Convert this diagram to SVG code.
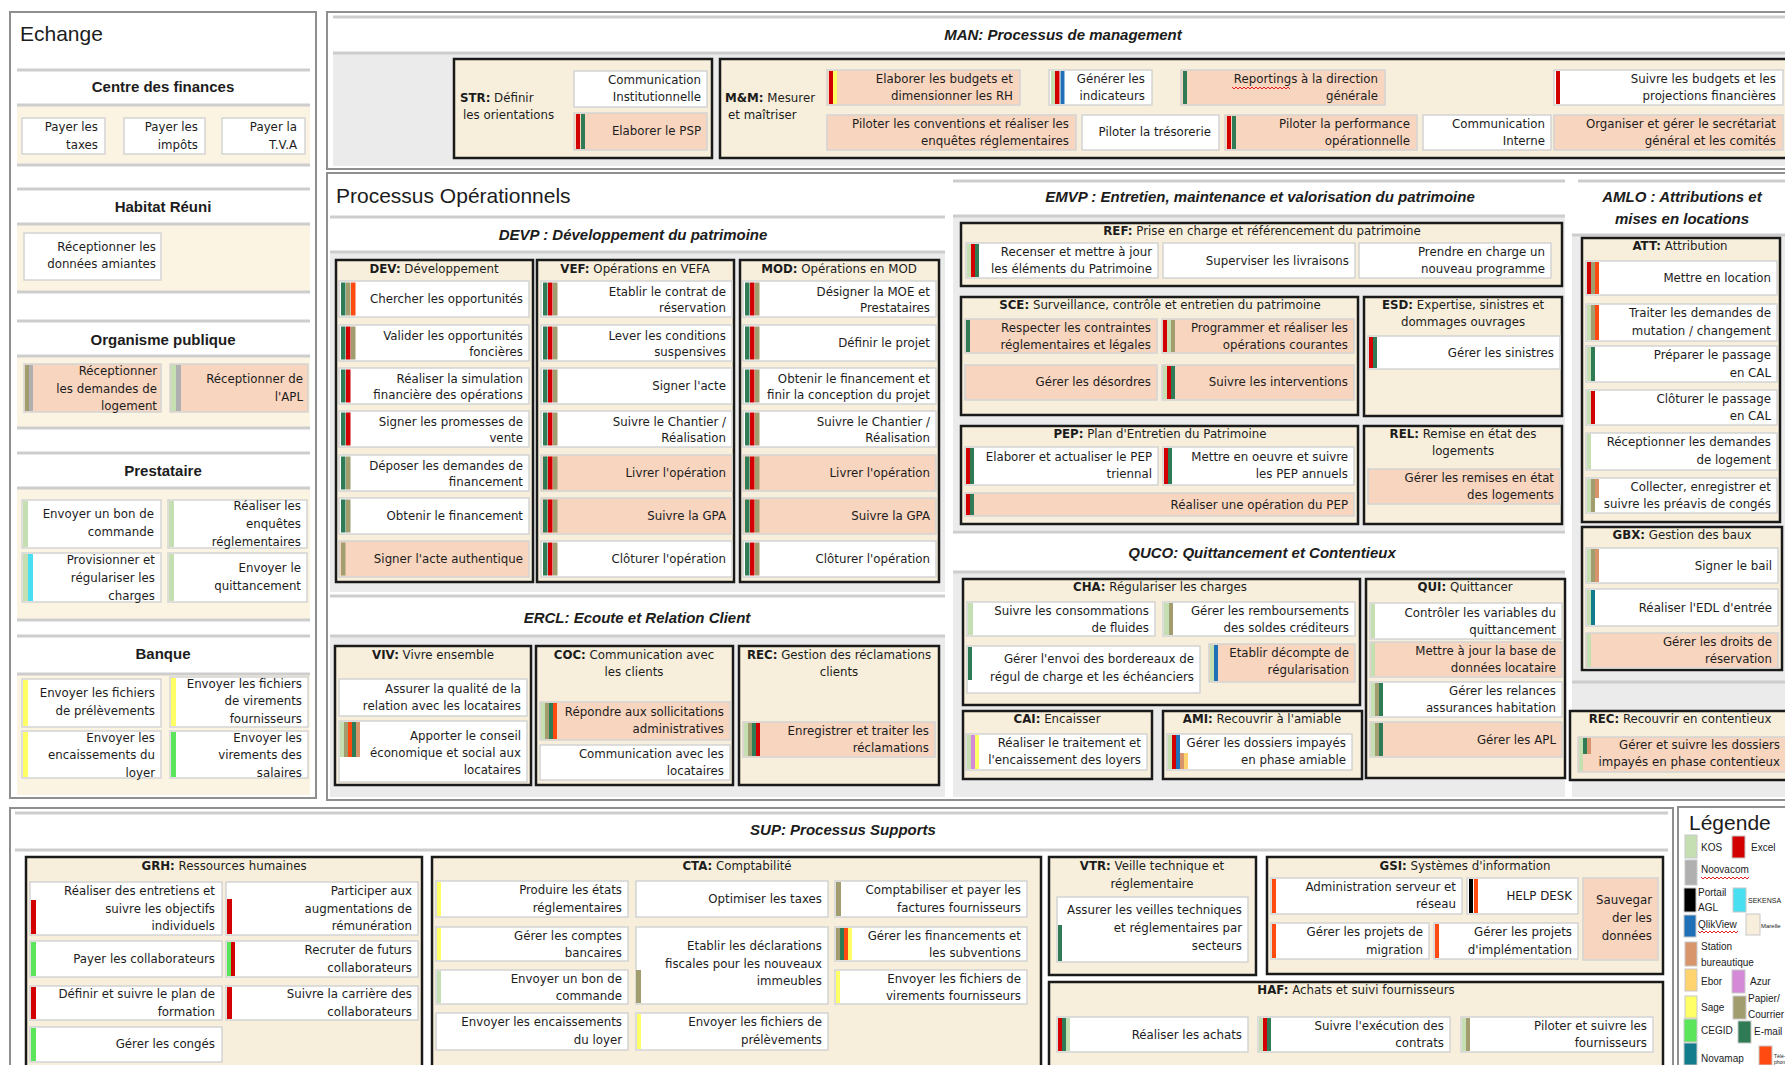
<svg xmlns="http://www.w3.org/2000/svg" width="1785" height="1065" viewBox="0 0 1785 1065">
<style>
text{font-family:"Liberation Sans",Arial,sans-serif;fill:#1c1c1c}
.t,.h,.hl{font-family:"DejaVu Sans","Liberation Sans",sans-serif;font-size:11.8px}
.t{text-anchor:end}
.h{text-anchor:middle}
.bd{font-weight:bold}
.st{font-size:15px;font-weight:bold;text-anchor:middle}
.sec{font-size:15px;font-weight:bold;font-style:italic;text-anchor:middle}
.big{font-size:21px}
.lg{font-size:10px}
.panel{fill:#fff;stroke:#8f8f8f;stroke-width:2}
.sep{stroke:#cdcdcd;stroke-width:3}
.gbg{fill:#ebebeb}
.eb{fill:#fcf4e2}
.grp{fill:#f7efdb;stroke:#1a1a1a;stroke-width:2.5}
.w{fill:#fff;stroke:#d4d4d4;stroke-width:1.5}
.s{fill:#f8d5bf;stroke:#d4d4d4;stroke-width:1.5}
.kos{fill:#c5dfb3}.exc{fill:#d20000}.pap{fill:#a29d6e}.eml{fill:#2e7b55}.tel{fill:#ff4a12}.qlk{fill:#1f70b6}
.sag{fill:#ffff66}.ceg{fill:#5be55b}.sta{fill:#d8956c}.sek{fill:#48e0f0}.azu{fill:#d58ad8}.blk{fill:#000}
.nov{fill:#b0b0b0}.nmp{fill:#137c8c}.exr{fill:#ffd46e}.mar{fill:#f7efdb}
.sw{stroke:#c8c8c8;stroke-width:1}
.wave{fill:none;stroke:#e02020;stroke-width:1}
</style>

<!-- ================= ECHANGE ================= -->
<g id="echange">
<rect class="panel" x="10" y="12" width="306" height="786"/>
<text class="big" x="20" y="41">Echange</text>
<rect class="eb" x="17" y="106" width="293" height="58"/>
<rect class="eb" x="17" y="225" width="293" height="66"/>
<rect class="eb" x="17" y="357" width="293" height="70"/>
<rect class="eb" x="17" y="489" width="293" height="130"/>
<rect class="eb" x="17" y="675" width="293" height="120"/>
<line class="sep" x1="17" y1="70" x2="310" y2="70"/><line class="sep" x1="17" y1="105" x2="310" y2="105"/><line class="sep" x1="17" y1="165" x2="310" y2="165"/>
<line class="sep" x1="17" y1="189" x2="310" y2="189"/><line class="sep" x1="17" y1="224" x2="310" y2="224"/><line class="sep" x1="17" y1="292" x2="310" y2="292"/>
<line class="sep" x1="17" y1="321" x2="310" y2="321"/><line class="sep" x1="17" y1="356" x2="310" y2="356"/><line class="sep" x1="17" y1="428" x2="310" y2="428"/>
<line class="sep" x1="17" y1="453" x2="310" y2="453"/><line class="sep" x1="17" y1="488" x2="310" y2="488"/><line class="sep" x1="17" y1="620" x2="310" y2="620"/>
<line class="sep" x1="17" y1="636" x2="310" y2="636"/><line class="sep" x1="17" y1="674" x2="310" y2="674"/>
<text class="st" x="163" y="92">Centre des finances</text>
<text class="st" x="163" y="212">Habitat Réuni</text>
<text class="st" x="163" y="345">Organisme publique</text>
<text class="st" x="163" y="476">Prestataire</text>
<text class="st" x="163" y="659">Banque</text>
</g>
<g id="ech-taxes"><rect class="w" x="22" y="118" width="83" height="36"/><text class="t"><tspan x="98" y="131">Payer les</tspan><tspan x="98" y="149">taxes</tspan></text></g>
<g id="ech-impots"><rect class="w" x="124" y="118" width="81" height="36"/><text class="t"><tspan x="198" y="131">Payer les</tspan><tspan x="198" y="149">impôts</tspan></text></g>
<g id="ech-tva"><rect class="w" x="222" y="118" width="83" height="36"/><text class="t"><tspan x="297" y="131">Payer la</tspan><tspan x="297" y="149">T.V.A</tspan></text></g>
<g id="ech-amiante"><rect class="w" x="24" y="233" width="137" height="47"/><text class="t"><tspan x="156" y="251">Réceptionner les</tspan><tspan x="156" y="268">données amiantes</tspan></text></g>
<g id="ech-demlog"><rect class="s" x="24" y="364" width="137" height="48"/><rect class="pap" x="25" y="365" width="4" height="46"/><rect class="nov" x="29" y="365" width="4" height="46"/><text class="t"><tspan x="157" y="375">Réceptionner</tspan><tspan x="157" y="393">les demandes de</tspan><tspan x="157" y="410">logement</tspan></text></g>
<g id="ech-apl"><rect class="s" x="170" y="364" width="138" height="48"/><rect class="kos" x="171" y="365" width="5" height="46"/><rect class="nov" x="176" y="365" width="5" height="46"/><text class="t"><tspan x="303" y="383">Réceptionner de</tspan><tspan x="303" y="401">l'APL</tspan></text></g>
<g id="ech-bon"><rect class="w" x="22" y="500" width="139" height="48"/><rect class="kos" x="23" y="501" width="5" height="46"/><text class="t"><tspan x="154" y="518">Envoyer un bon de</tspan><tspan x="154" y="536">commande</tspan></text></g>
<g id="ech-enq"><rect class="w" x="168" y="500" width="139" height="48"/><rect class="kos" x="169" y="501" width="5" height="46"/><text class="t"><tspan x="301" y="510">Réaliser les</tspan><tspan x="301" y="528">enquêtes</tspan><tspan x="301" y="546">réglementaires</tspan></text></g>
<g id="ech-prov"><rect class="w" x="22" y="553" width="139" height="49"/><rect class="kos" x="23" y="554" width="5" height="47"/><rect class="sek" x="28" y="554" width="5" height="47"/><text class="t"><tspan x="155" y="564">Provisionner et</tspan><tspan x="155" y="582">régulariser les</tspan><tspan x="155" y="600">charges</tspan></text></g>
<g id="ech-quit"><rect class="w" x="168" y="553" width="139" height="49"/><rect class="kos" x="169" y="554" width="5" height="47"/><text class="t"><tspan x="301" y="572">Envoyer le</tspan><tspan x="301" y="590">quittancement</tspan></text></g>
<g id="ech-prel"><rect class="w" x="22" y="679" width="139" height="48"/><rect class="sag" x="23" y="680" width="5" height="46"/><text class="t"><tspan x="155" y="697">Envoyer les fichiers</tspan><tspan x="155" y="715">de prélèvements</tspan></text></g>
<g id="ech-vir"><rect class="w" x="170" y="677" width="138" height="50"/><rect class="sag" x="171" y="678" width="5" height="48"/><text class="t"><tspan x="302" y="688">Envoyer les fichiers</tspan><tspan x="302" y="705">de virements</tspan><tspan x="302" y="723">fournisseurs</tspan></text></g>
<g id="ech-enc"><rect class="w" x="22" y="731" width="139" height="47"/><rect class="sag" x="23" y="732" width="5" height="45"/><text class="t"><tspan x="155" y="742">Envoyer les</tspan><tspan x="155" y="759">encaissements du</tspan><tspan x="155" y="777">loyer</tspan></text></g>
<g id="ech-sal"><rect class="w" x="170" y="731" width="138" height="47"/><rect class="ceg" x="171" y="732" width="5" height="45"/><text class="t"><tspan x="302" y="742">Envoyer les</tspan><tspan x="302" y="759">virements des</tspan><tspan x="302" y="777">salaires</tspan></text></g>

<!-- ================= MAN ================= -->
<g id="man">
<rect class="panel" x="327" y="12" width="1470" height="157"/>
<line class="sep" x1="333" y1="17" x2="1785" y2="17"/>
<rect class="gbg" x="333" y="54" width="1460" height="112"/>
<line class="sep" x1="333" y1="53" x2="1785" y2="53"/>
<text class="sec" x="1063" y="40">MAN: Processus de management</text>
<rect class="grp" x="454" y="59" width="258" height="99"/>
<text class="hl"><tspan x="460" y="102"><tspan class="bd">STR:</tspan> Définir</tspan><tspan x="463" y="119">les orientations</tspan></text>
<rect class="grp" x="720" y="59" width="1080" height="99"/>
<text class="hl"><tspan x="725" y="102"><tspan class="bd">M&amp;M:</tspan> Mesurer</tspan><tspan x="728" y="119">et maîtriser</tspan></text>
</g>
<g id="str-comm"><rect class="w" x="574" y="71" width="133" height="36"/><text class="t"><tspan x="701" y="84">Communication</tspan><tspan x="701" y="101">Institutionnelle</tspan></text></g>
<g id="str-psp"><rect class="s" x="574" y="113" width="133" height="37"/><rect class="exc" x="576" y="114" width="4" height="35"/><rect class="eml" x="581" y="114" width="4" height="35"/><text class="t" x="701" y="135">Elaborer le PSP</text></g>
<g id="mm-budgets"><rect class="s" x="827" y="70" width="193" height="35"/><rect class="exc" x="829" y="71" width="4" height="33"/><rect class="sag" x="833" y="71" width="4" height="33"/><text class="t"><tspan x="1013" y="83">Elaborer les budgets et</tspan><tspan x="1013" y="100">dimensionner les RH</tspan></text></g>
<g id="mm-indic"><rect class="w" x="1049" y="70" width="103" height="35"/><rect class="kos" x="1051" y="71" width="4" height="33"/><rect class="exc" x="1055" y="71" width="4.5" height="33"/><rect class="qlk" x="1060.5" y="71" width="4" height="33"/><text class="t"><tspan x="1145" y="83">Générer les</tspan><tspan x="1145" y="100">indicateurs</tspan></text></g>
<g id="mm-report"><rect class="s" x="1181" y="70" width="204" height="35"/><rect class="eml" x="1183" y="71" width="4" height="33"/><text class="t"><tspan x="1378" y="83">Reportings à la direction</tspan><tspan x="1378" y="100">générale</tspan></text><path class="wave" d="M1232 87 l2 2 l2 -2 l2 2 l2 -2 l2 2 l2 -2 l2 2 l2 -2 l2 2 l2 -2 l2 2 l2 -2 l2 2 l2 -2 l2 2 l2 -2 l2 2 l2 -2 l2 2 l2 -2 l2 2 l2 -2 l2 2 l2 -2 l2 2 l2 -2 l2 2 l2 -2 l2 2"/></g>
<g id="mm-suivre"><rect class="w" x="1554" y="70" width="229" height="35"/><rect class="exc" x="1556" y="71" width="4" height="33"/><text class="t"><tspan x="1776" y="83">Suivre les budgets et les</tspan><tspan x="1776" y="100">projections financières</tspan></text></g>
<g id="mm-conv"><rect class="s" x="827" y="115" width="249" height="35"/><text class="t"><tspan x="1069" y="128">Piloter les conventions et réaliser les</tspan><tspan x="1069" y="145">enquêtes réglementaires</tspan></text></g>
<g id="mm-treso"><rect class="w" x="1082" y="115" width="137" height="35"/><text class="t" x="1211" y="136">Piloter la trésorerie</text></g>
<g id="mm-perf"><rect class="s" x="1225" y="115" width="192" height="35"/><rect class="exc" x="1227" y="116" width="4" height="33"/><rect class="eml" x="1232" y="116" width="4" height="33"/><text class="t"><tspan x="1410" y="128">Piloter la performance</tspan><tspan x="1410" y="145">opérationnelle</tspan></text></g>
<g id="mm-commint"><rect class="w" x="1423" y="115" width="128" height="35"/><text class="t"><tspan x="1545" y="128">Communication</tspan><tspan x="1545" y="145">Interne</tspan></text></g>
<g id="mm-secr"><rect class="s" x="1554" y="115" width="229" height="35"/><text class="t"><tspan x="1776" y="128">Organiser et gérer le secrétariat</tspan><tspan x="1776" y="145">général et les comités</tspan></text></g>

<!-- ================= PROCESSUS OPERATIONNELS ================= -->
<g id="operationnels">
<rect class="panel" x="327" y="173" width="1470" height="627"/>
<text class="big" x="336" y="203">Processus Opérationnels</text>
<rect class="gbg" x="330" y="253" width="615" height="339"/>
<rect class="gbg" x="330" y="637" width="615" height="160"/>
<rect class="gbg" x="953" y="217" width="612" height="313"/>
<rect class="gbg" x="953" y="573" width="612" height="224"/>
<rect class="gbg" x="1572" y="236" width="220" height="561"/>
<line class="sep" x1="330" y1="217" x2="945" y2="217"/><line class="sep" x1="330" y1="252" x2="945" y2="252"/>
<line class="sep" x1="330" y1="596" x2="945" y2="596"/><line class="sep" x1="330" y1="636" x2="945" y2="636"/>
<line class="sep" x1="953" y1="181" x2="1565" y2="181"/><line class="sep" x1="953" y1="216" x2="1565" y2="216"/>
<line class="sep" x1="953" y1="532" x2="1565" y2="532"/><line class="sep" x1="953" y1="572" x2="1565" y2="572"/>
<line class="sep" x1="1578" y1="181" x2="1785" y2="181"/><line class="sep" x1="1572" y1="235" x2="1785" y2="235"/>
<line class="sep" x1="1572" y1="682" x2="1785" y2="682"/>
<text class="sec" x="633" y="240">DEVP : Développement du patrimoine</text>
<text class="sec" x="637" y="623">ERCL: Ecoute et Relation Client</text>
<text class="sec" x="1260" y="202">EMVP : Entretien, maintenance et valorisation du patrimoine</text>
<text class="sec" x="1262" y="558">QUCO: Quittancement et Contentieux</text>
<text class="sec"><tspan x="1682" y="202">AMLO : Attributions et</tspan><tspan x="1682" y="224">mises en locations</tspan></text>
</g>

<!-- DEV -->
<g id="dev"><rect class="grp" x="336" y="260" width="197" height="322"/><text class="h" x="434" y="273"><tspan class="bd">DEV:</tspan> Développement</text></g>
<g id="dev-1"><rect class="w" x="339" y="281" width="190" height="36"/><rect class="eml" x="341" y="282.5" width="4.5" height="33"/><rect class="pap" x="346" y="282.5" width="4.5" height="33"/><rect class="tel" x="351" y="282.5" width="4.5" height="33"/><text class="t" x="523" y="303">Chercher les opportunités</text></g>
<g id="dev-2"><rect class="w" x="339" y="325" width="190" height="36"/><rect class="eml" x="341" y="326.5" width="4.5" height="33"/><rect class="exc" x="346" y="326.5" width="4.5" height="33"/><rect class="pap" x="351" y="326.5" width="4.5" height="33"/><text class="t"><tspan x="523" y="340">Valider les opportunités</tspan><tspan x="523" y="356">foncières</tspan></text></g>
<g id="dev-3"><rect class="w" x="339" y="368" width="190" height="36"/><rect class="eml" x="341" y="369.5" width="4.5" height="33"/><rect class="exc" x="346" y="369.5" width="4.5" height="33"/><text class="t"><tspan x="523" y="383">Réaliser la simulation</tspan><tspan x="523" y="399">financière des opérations</tspan></text></g>
<g id="dev-4"><rect class="w" x="339" y="411" width="190" height="36"/><rect class="eml" x="341" y="412.5" width="4.5" height="33"/><rect class="exc" x="346" y="412.5" width="4.5" height="33"/><text class="t"><tspan x="523" y="426">Signer les promesses de</tspan><tspan x="523" y="442">vente</tspan></text></g>
<g id="dev-5"><rect class="w" x="339" y="455" width="190" height="36"/><rect class="eml" x="341" y="456.5" width="4.5" height="33"/><rect class="pap" x="346" y="456.5" width="4.5" height="33"/><text class="t"><tspan x="523" y="470">Déposer les demandes de</tspan><tspan x="523" y="486">financement</tspan></text></g>
<g id="dev-6"><rect class="w" x="339" y="498" width="190" height="36"/><rect class="eml" x="341" y="499.5" width="4.5" height="33"/><rect class="pap" x="346" y="499.5" width="4.5" height="33"/><text class="t" x="523" y="520">Obtenir le financement</text></g>
<g id="dev-7"><rect class="s" x="339" y="541" width="190" height="36"/><rect class="pap" x="341" y="542.5" width="4.5" height="33"/><text class="t" x="523" y="563">Signer l'acte authentique</text></g>

<!-- VEF -->
<g id="vef"><rect class="grp" x="537" y="260" width="197" height="322"/><text class="h" x="635" y="273"><tspan class="bd">VEF:</tspan> Opérations en VEFA</text></g>
<g id="vef-1"><rect class="w" x="541" y="281" width="191" height="36"/><rect class="eml" x="543" y="282.5" width="4.5" height="33"/><rect class="exc" x="548" y="282.5" width="4.5" height="33"/><rect class="pap" x="553" y="282.5" width="4.5" height="33"/><text class="t"><tspan x="726" y="296">Etablir le contrat de</tspan><tspan x="726" y="312">réservation</tspan></text></g>
<g id="vef-2"><rect class="w" x="541" y="325" width="191" height="36"/><rect class="eml" x="543" y="326.5" width="4.5" height="33"/><rect class="exc" x="548" y="326.5" width="4.5" height="33"/><rect class="pap" x="553" y="326.5" width="4.5" height="33"/><text class="t"><tspan x="726" y="340">Lever les conditions</tspan><tspan x="726" y="356">suspensives</tspan></text></g>
<g id="vef-3"><rect class="w" x="541" y="368" width="191" height="36"/><rect class="eml" x="543" y="369.5" width="4.5" height="33"/><rect class="exc" x="548" y="369.5" width="4.5" height="33"/><rect class="pap" x="553" y="369.5" width="4.5" height="33"/><text class="t" x="726" y="390">Signer l'acte</text></g>
<g id="vef-4"><rect class="w" x="541" y="411" width="191" height="36"/><rect class="eml" x="543" y="412.5" width="4.5" height="33"/><rect class="exc" x="548" y="412.5" width="4.5" height="33"/><rect class="pap" x="553" y="412.5" width="4.5" height="33"/><text class="t"><tspan x="726" y="426">Suivre le Chantier /</tspan><tspan x="726" y="442">Réalisation</tspan></text></g>
<g id="vef-5"><rect class="s" x="541" y="455" width="191" height="36"/><rect class="eml" x="543" y="456.5" width="4.5" height="33"/><rect class="exc" x="548" y="456.5" width="4.5" height="33"/><rect class="pap" x="553" y="456.5" width="4.5" height="33"/><text class="t" x="726" y="477">Livrer l'opération</text></g>
<g id="vef-6"><rect class="s" x="541" y="498" width="191" height="36"/><rect class="eml" x="543" y="499.5" width="4.5" height="33"/><rect class="exc" x="548" y="499.5" width="4.5" height="33"/><rect class="pap" x="553" y="499.5" width="4.5" height="33"/><text class="t" x="726" y="520">Suivre la GPA</text></g>
<g id="vef-7"><rect class="w" x="541" y="541" width="191" height="36"/><rect class="eml" x="543" y="542.5" width="4.5" height="33"/><rect class="exc" x="548" y="542.5" width="4.5" height="33"/><rect class="pap" x="553" y="542.5" width="4.5" height="33"/><text class="t" x="726" y="563">Clôturer l'opération</text></g>

<!-- MOD -->
<g id="mod"><rect class="grp" x="740" y="260" width="199" height="322"/><text class="h" x="839" y="273"><tspan class="bd">MOD:</tspan> Opérations en MOD</text></g>
<g id="mod-1"><rect class="w" x="743" y="281" width="193" height="36"/><rect class="eml" x="745" y="282.5" width="4.5" height="33"/><rect class="exc" x="750" y="282.5" width="4.5" height="33"/><rect class="pap" x="755" y="282.5" width="4.5" height="33"/><text class="t"><tspan x="930" y="296">Désigner la MOE et</tspan><tspan x="930" y="312">Prestataires</tspan></text></g>
<g id="mod-2"><rect class="w" x="743" y="325" width="193" height="36"/><rect class="eml" x="745" y="326.5" width="4.5" height="33"/><rect class="exc" x="750" y="326.5" width="4.5" height="33"/><rect class="pap" x="755" y="326.5" width="4.5" height="33"/><text class="t" x="930" y="347">Définir le projet</text></g>
<g id="mod-3"><rect class="w" x="743" y="368" width="193" height="36"/><rect class="eml" x="745" y="369.5" width="4.5" height="33"/><rect class="exc" x="750" y="369.5" width="4.5" height="33"/><rect class="pap" x="755" y="369.5" width="4.5" height="33"/><text class="t"><tspan x="930" y="383">Obtenir le financement et</tspan><tspan x="930" y="399">finir la conception du projet</tspan></text></g>
<g id="mod-4"><rect class="w" x="743" y="411" width="193" height="36"/><rect class="eml" x="745" y="412.5" width="4.5" height="33"/><rect class="exc" x="750" y="412.5" width="4.5" height="33"/><rect class="pap" x="755" y="412.5" width="4.5" height="33"/><text class="t"><tspan x="930" y="426">Suivre le Chantier /</tspan><tspan x="930" y="442">Réalisation</tspan></text></g>
<g id="mod-5"><rect class="s" x="743" y="455" width="193" height="36"/><rect class="eml" x="745" y="456.5" width="4.5" height="33"/><rect class="exc" x="750" y="456.5" width="4.5" height="33"/><rect class="pap" x="755" y="456.5" width="4.5" height="33"/><text class="t" x="930" y="477">Livrer l'opération</text></g>
<g id="mod-6"><rect class="s" x="743" y="498" width="193" height="36"/><rect class="eml" x="745" y="499.5" width="4.5" height="33"/><rect class="exc" x="750" y="499.5" width="4.5" height="33"/><rect class="pap" x="755" y="499.5" width="4.5" height="33"/><text class="t" x="930" y="520">Suivre la GPA</text></g>
<g id="mod-7"><rect class="w" x="743" y="541" width="193" height="36"/><rect class="eml" x="745" y="542.5" width="4.5" height="33"/><rect class="exc" x="750" y="542.5" width="4.5" height="33"/><rect class="pap" x="755" y="542.5" width="4.5" height="33"/><text class="t" x="930" y="563">Clôturer l'opération</text></g>

<!-- ERCL -->
<g id="viv"><rect class="grp" x="335" y="646" width="196" height="139"/><text class="h" x="433" y="659"><tspan class="bd">VIV:</tspan> Vivre ensemble</text></g>
<g id="viv-1"><rect class="w" x="339" y="679" width="188" height="37"/><text class="t"><tspan x="521" y="693">Assurer la qualité de la</tspan><tspan x="521" y="710">relation avec les locataires</tspan></text></g>
<g id="viv-2"><rect class="w" x="339" y="721" width="188" height="61"/><rect class="kos" x="340" y="722" width="4" height="35"/><rect class="pap" x="344" y="722" width="4" height="35"/><rect class="tel" x="348" y="722" width="4" height="35"/><rect class="eml" x="352" y="722" width="4" height="35"/><rect class="sta" x="356" y="722" width="4" height="35"/><text class="t"><tspan x="521" y="740">Apporter le conseil</tspan><tspan x="521" y="757">économique et social aux</tspan><tspan x="521" y="774">locataires</tspan></text></g>
<g id="coc"><rect class="grp" x="536" y="646" width="197" height="139"/><text class="h"><tspan x="634" y="659"><tspan class="bd">COC:</tspan> Communication avec</tspan><tspan x="634" y="676">les clients</tspan></text></g>
<g id="coc-1"><rect class="s" x="540" y="702" width="190" height="38"/><rect class="kos" x="541" y="703" width="4" height="36"/><rect class="pap" x="545" y="703" width="4" height="36"/><rect class="eml" x="549" y="703" width="4" height="36"/><rect class="tel" x="553" y="703" width="4" height="36"/><text class="t"><tspan x="724" y="716">Répondre aux sollicitations</tspan><tspan x="724" y="733">administratives</tspan></text></g>
<g id="coc-2"><rect class="w" x="540" y="745" width="190" height="35"/><text class="t"><tspan x="724" y="758">Communication avec les</tspan><tspan x="724" y="775">locataires</tspan></text></g>
<g id="rec"><rect class="grp" x="739" y="646" width="200" height="139"/><text class="h"><tspan x="839" y="659"><tspan class="bd">REC:</tspan> Gestion des réclamations</tspan><tspan x="839" y="676">clients</tspan></text></g>
<g id="rec-1"><rect class="s" x="743" y="722" width="192" height="35"/><rect class="kos" x="744" y="723" width="4" height="33"/><rect class="pap" x="748" y="723" width="4" height="33"/><rect class="eml" x="752" y="723" width="4" height="33"/><rect class="exc" x="756" y="723" width="4" height="33"/><text class="t"><tspan x="929" y="735">Enregistrer et traiter les</tspan><tspan x="929" y="752">réclamations</tspan></text></g>

<!-- EMVP -->
<g id="ref"><rect class="grp" x="961" y="223" width="601" height="63"/><text class="h" x="1262" y="235"><tspan class="bd">REF:</tspan> Prise en charge et référencement du patrimoine</text></g>
<g id="ref-1"><rect class="w" x="966" y="243" width="192" height="35"/><rect class="kos" x="967" y="244" width="4" height="33"/><rect class="exc" x="971" y="244" width="4" height="33"/><rect class="eml" x="975" y="244" width="4" height="33"/><text class="t"><tspan x="1152" y="256">Recenser et mettre à jour</tspan><tspan x="1152" y="273">les éléments du Patrimoine</tspan></text></g>
<g id="ref-2"><rect class="w" x="1163" y="243" width="192" height="35"/><text class="t" x="1349" y="265">Superviser les livraisons</text></g>
<g id="ref-3"><rect class="w" x="1359" y="243" width="192" height="35"/><text class="t"><tspan x="1545" y="256">Prendre en charge un</tspan><tspan x="1545" y="273">nouveau programme</tspan></text></g>
<g id="sce"><rect class="grp" x="961" y="297" width="397" height="118"/><text class="h" x="1160" y="309"><tspan class="bd">SCE:</tspan> Surveillance, contrôle et entretien du patrimoine</text></g>
<g id="sce-1"><rect class="s" x="965" y="319" width="192" height="34"/><rect class="eml" x="966" y="320" width="4" height="32"/><text class="t"><tspan x="1151" y="332">Respecter les contraintes</tspan><tspan x="1151" y="349">réglementaires et légales</tspan></text></g>
<g id="sce-2"><rect class="s" x="1162" y="319" width="192" height="34"/><rect class="exc" x="1163" y="320" width="4" height="32"/><rect class="kos" x="1167" y="320" width="4" height="32"/><rect class="pap" x="1171" y="320" width="4" height="32"/><text class="t"><tspan x="1348" y="332">Programmer et réaliser les</tspan><tspan x="1348" y="349">opérations courantes</tspan></text></g>
<g id="sce-3"><rect class="s" x="965" y="365" width="192" height="35"/><text class="t" x="1151" y="386">Gérer les désordres</text></g>
<g id="sce-4"><rect class="s" x="1162" y="365" width="192" height="35"/><rect class="kos" x="1163" y="366" width="4" height="33"/><rect class="exc" x="1167" y="366" width="4" height="33"/><rect class="eml" x="1171" y="366" width="4" height="33"/><text class="t" x="1348" y="386">Suivre les interventions</text></g>
<g id="esd"><rect class="grp" x="1364" y="297" width="198" height="119"/><text class="h"><tspan x="1463" y="309"><tspan class="bd">ESD:</tspan> Expertise, sinistres et</tspan><tspan x="1463" y="326">dommages ouvrages</tspan></text></g>
<g id="esd-1"><rect class="w" x="1368" y="336" width="192" height="33"/><rect class="exc" x="1369" y="337" width="4" height="31"/><rect class="eml" x="1373" y="337" width="4" height="31"/><text class="t" x="1554" y="357">Gérer les sinistres</text></g>
<g id="pep"><rect class="grp" x="961" y="426" width="397" height="98"/><text class="h" x="1160" y="438"><tspan class="bd">PEP:</tspan> Plan d'Entretien du Patrimoine</text></g>
<g id="pep-1"><rect class="w" x="965" y="447" width="193" height="38"/><rect class="exc" x="966" y="448" width="4" height="36"/><rect class="eml" x="970" y="448" width="4" height="36"/><text class="t"><tspan x="1152" y="461">Elaborer et actualiser le PEP</tspan><tspan x="1152" y="478">triennal</tspan></text></g>
<g id="pep-2"><rect class="w" x="1163" y="447" width="191" height="38"/><rect class="exc" x="1164" y="448" width="4" height="36"/><rect class="eml" x="1168" y="448" width="4" height="36"/><text class="t"><tspan x="1348" y="461">Mettre en oeuvre et suivre</tspan><tspan x="1348" y="478">les PEP annuels</tspan></text></g>
<g id="pep-3"><rect class="s" x="965" y="493" width="389" height="23"/><rect class="exc" x="966" y="494" width="4" height="21"/><rect class="eml" x="970" y="494" width="4" height="21"/><text class="t" x="1348" y="509">Réaliser une opération du PEP</text></g>
<g id="rel"><rect class="grp" x="1364" y="426" width="198" height="98"/><text class="h"><tspan x="1463" y="438"><tspan class="bd">REL:</tspan> Remise en état des</tspan><tspan x="1463" y="455">logements</tspan></text></g>
<g id="rel-1"><rect class="s" x="1368" y="469" width="192" height="35"/><text class="t"><tspan x="1554" y="482">Gérer les remises en état</tspan><tspan x="1554" y="499">des logements</tspan></text></g>

<!-- QUCO -->
<g id="cha"><rect class="grp" x="963" y="579" width="397" height="126"/><text class="h" x="1160" y="591"><tspan class="bd">CHA:</tspan> Régulariser les charges</text></g>
<g id="cha-1"><rect class="w" x="967" y="602" width="188" height="34"/><rect class="kos" x="968" y="603" width="5" height="32"/><text class="t"><tspan x="1149" y="615">Suivre les consommations</tspan><tspan x="1149" y="632">de fluides</tspan></text></g>
<g id="cha-2"><rect class="w" x="1163" y="602" width="192" height="34"/><rect class="kos" x="1164" y="603" width="5" height="32"/><rect class="pap" x="1169" y="603" width="4" height="32"/><text class="t"><tspan x="1349" y="615">Gérer les remboursements</tspan><tspan x="1349" y="632">des soldes créditeurs</tspan></text></g>
<g id="cha-3"><rect class="w" x="967" y="646" width="233" height="47"/><rect class="eml" x="968" y="647" width="4" height="33"/><text class="t"><tspan x="1194" y="663">Gérer l'envoi des bordereaux de</tspan><tspan x="1194" y="681">régul de charge et les échéanciers</tspan></text></g>
<g id="cha-4"><rect class="s" x="1209" y="644" width="146" height="38"/><rect class="kos" x="1210" y="645" width="4" height="36"/><rect class="qlk" x="1214" y="645" width="4" height="36"/><text class="t"><tspan x="1349" y="657">Etablir décompte de</tspan><tspan x="1349" y="674">régularisation</tspan></text></g>
<g id="qui"><rect class="grp" x="1366" y="579" width="199" height="199"/><text class="h" x="1465" y="591"><tspan class="bd">QUI:</tspan> Quittancer</text></g>
<g id="qui-1"><rect class="w" x="1370" y="603" width="192" height="36"/><rect class="kos" x="1371" y="604" width="4" height="34"/><text class="t"><tspan x="1556" y="617">Contrôler les variables du</tspan><tspan x="1556" y="634">quittancement</tspan></text></g>
<g id="qui-2"><rect class="s" x="1370" y="642" width="192" height="35"/><rect class="kos" x="1371" y="643" width="4" height="33"/><text class="t"><tspan x="1556" y="655">Mettre à jour la base de</tspan><tspan x="1556" y="672">données locataire</tspan></text></g>
<g id="qui-3"><rect class="w" x="1370" y="682" width="192" height="35"/><rect class="kos" x="1371" y="683" width="4" height="33"/><rect class="pap" x="1375" y="683" width="4" height="33"/><rect class="eml" x="1379" y="683" width="4" height="33"/><text class="t"><tspan x="1556" y="695">Gérer les relances</tspan><tspan x="1556" y="712">assurances habitation</tspan></text></g>
<g id="qui-4"><rect class="s" x="1370" y="722" width="192" height="35"/><rect class="kos" x="1371" y="723" width="4" height="33"/><rect class="pap" x="1375" y="723" width="4" height="33"/><rect class="eml" x="1379" y="723" width="4" height="33"/><text class="t" x="1556" y="744">Gérer les APL</text></g>
<g id="cai"><rect class="grp" x="963" y="711" width="189" height="68"/><text class="h" x="1057" y="723"><tspan class="bd">CAI:</tspan> Encaisser</text></g>
<g id="cai-1"><rect class="w" x="966" y="734" width="181" height="36"/><rect class="kos" x="967" y="735" width="4" height="34"/><rect class="azu" x="971" y="735" width="4" height="34"/><rect class="sag" x="975" y="735" width="4" height="34"/><text class="t"><tspan x="1141" y="747">Réaliser le traitement et</tspan><tspan x="1141" y="764">l'encaissement des loyers</tspan></text></g>
<g id="ami"><rect class="grp" x="1163" y="711" width="199" height="68"/><text class="h" x="1262" y="723"><tspan class="bd">AMI:</tspan> Recouvrir à l'amiable</text></g>
<g id="ami-1"><rect class="w" x="1167" y="734" width="185" height="36"/><rect class="kos" x="1168" y="735" width="4" height="34"/><rect class="exc" x="1172" y="735" width="4" height="34"/><rect class="qlk" x="1176" y="735" width="4" height="34"/><rect class="sta" x="1180" y="753" width="4" height="16"/><rect class="exr" x="1184" y="753" width="4" height="16"/><text class="t"><tspan x="1346" y="747">Gérer les dossiers impayés</tspan><tspan x="1346" y="764">en phase amiable</tspan></text></g>
<g id="rec2"><rect class="grp" x="1570" y="711" width="225" height="69"/><text class="h" x="1680" y="723"><tspan class="bd">REC:</tspan> Recouvrir en contentieux</text></g>
<g id="rec2-1"><rect class="s" x="1578" y="737" width="210" height="35"/><rect class="kos" x="1579" y="738" width="4" height="33"/><rect class="eml" x="1583" y="738" width="4" height="16"/><rect class="sta" x="1587" y="738" width="4" height="16"/><text class="t"><tspan x="1780" y="749">Gérer et suivre les dossiers</tspan><tspan x="1780" y="766">impayés en phase contentieux</tspan></text></g>

<!-- AMLO -->
<g id="att"><rect class="grp" x="1582" y="238" width="198" height="284"/><text class="h" x="1680" y="250"><tspan class="bd">ATT:</tspan> Attribution</text></g>
<g id="att-1"><rect class="w" x="1586" y="261" width="191" height="34"/><rect class="exc" x="1587" y="262" width="4" height="32"/><rect class="pap" x="1591" y="262" width="4" height="32"/><rect class="tel" x="1595" y="262" width="4" height="32"/><text class="t" x="1771" y="282">Mettre en location</text></g>
<g id="att-2"><rect class="w" x="1586" y="304" width="191" height="37"/><rect class="kos" x="1587" y="305" width="4" height="35"/><rect class="pap" x="1591" y="305" width="4" height="35"/><rect class="tel" x="1595" y="305" width="4" height="35"/><text class="t"><tspan x="1771" y="317">Traiter les demandes de</tspan><tspan x="1771" y="335">mutation / changement</tspan></text></g>
<g id="att-3"><rect class="w" x="1586" y="346" width="191" height="36"/><rect class="kos" x="1587" y="347" width="4" height="34"/><rect class="eml" x="1591" y="347" width="4" height="34"/><text class="t"><tspan x="1771" y="359">Préparer le passage</tspan><tspan x="1771" y="377">en CAL</tspan></text></g>
<g id="att-4"><rect class="w" x="1586" y="390" width="191" height="35"/><rect class="kos" x="1587" y="391" width="4" height="33"/><rect class="exc" x="1591" y="391" width="4" height="33"/><text class="t"><tspan x="1771" y="403">Clôturer le passage</tspan><tspan x="1771" y="420">en CAL</tspan></text></g>
<g id="att-5"><rect class="w" x="1586" y="433" width="191" height="37"/><rect class="kos" x="1587" y="434" width="4" height="35"/><text class="t"><tspan x="1771" y="446">Réceptionner les demandes</tspan><tspan x="1771" y="464">de logement</tspan></text></g>
<g id="att-6"><rect class="w" x="1586" y="478" width="191" height="35"/><rect class="kos" x="1587" y="479" width="4" height="33"/><rect class="pap" x="1591" y="479" width="4" height="33"/><rect class="sta" x="1595" y="479" width="4" height="19"/><text class="t"><tspan x="1771" y="491">Collecter, enregistrer et</tspan><tspan x="1771" y="508">suivre les préavis de congés</tspan></text></g>
<g id="gbx"><rect class="grp" x="1582" y="527" width="200" height="143"/><text class="h" x="1682" y="539"><tspan class="bd">GBX:</tspan> Gestion des baux</text></g>
<g id="gbx-1"><rect class="w" x="1586" y="548" width="192" height="35"/><rect class="kos" x="1587" y="549" width="4" height="33"/><rect class="pap" x="1591" y="549" width="4" height="33"/><rect class="sta" x="1595" y="549" width="4" height="33"/><text class="t" x="1772" y="570">Signer le bail</text></g>
<g id="gbx-2"><rect class="w" x="1586" y="589" width="192" height="37"/><rect class="kos" x="1587" y="590" width="4" height="35"/><rect class="nmp" x="1591" y="590" width="4" height="35"/><text class="t" x="1772" y="612">Réaliser l'EDL d'entrée</text></g>
<g id="gbx-3"><rect class="s" x="1586" y="633" width="192" height="35"/><rect class="kos" x="1587" y="634" width="4" height="33"/><text class="t"><tspan x="1772" y="646">Gérer les droits de</tspan><tspan x="1772" y="663">réservation</tspan></text></g>

<!-- ================= SUP ================= -->
<g id="sup">
<rect class="panel" x="10" y="808" width="1663" height="280"/>
<line class="sep" x1="15" y1="813" x2="1668" y2="813"/><line class="sep" x1="15" y1="850" x2="1668" y2="850"/>
<text class="sec" x="843" y="835">SUP: Processus Supports</text>
</g>
<g id="grh"><rect class="grp" x="26" y="857" width="396" height="230"/><text class="h" x="224" y="870"><tspan class="bd">GRH:</tspan> Ressources humaines</text></g>
<g id="grh-1"><rect class="w" x="30" y="882" width="192" height="53"/><rect class="exc" x="31" y="900" width="5" height="34"/><text class="t"><tspan x="215" y="895">Réaliser des entretiens et</tspan><tspan x="215" y="913">suivre les objectifs</tspan><tspan x="215" y="930">individuels</tspan></text></g>
<g id="grh-2"><rect class="w" x="226" y="882" width="192" height="53"/><rect class="exc" x="227" y="899" width="5" height="35"/><text class="t"><tspan x="412" y="895">Participer aux</tspan><tspan x="412" y="913">augmentations de</tspan><tspan x="412" y="930">rémunération</tspan></text></g>
<g id="grh-3"><rect class="w" x="30" y="941" width="192" height="36"/><rect class="ceg" x="31" y="942" width="5" height="34"/><text class="t" x="215" y="963">Payer les collaborateurs</text></g>
<g id="grh-4"><rect class="w" x="226" y="941" width="192" height="36"/><rect class="ceg" x="227" y="942" width="4" height="34"/><rect class="exc" x="231" y="942" width="4" height="34"/><text class="t"><tspan x="412" y="954">Recruter de futurs</tspan><tspan x="412" y="972">collaborateurs</tspan></text></g>
<g id="grh-5"><rect class="w" x="30" y="986" width="192" height="34"/><rect class="exc" x="31" y="987" width="5" height="32"/><text class="t"><tspan x="215" y="998">Définir et suivre le plan de</tspan><tspan x="215" y="1016">formation</tspan></text></g>
<g id="grh-6"><rect class="w" x="226" y="986" width="192" height="34"/><rect class="exc" x="227" y="987" width="5" height="32"/><text class="t"><tspan x="412" y="998">Suivre la carrière des</tspan><tspan x="412" y="1016">collaborateurs</tspan></text></g>
<g id="grh-7"><rect class="w" x="30" y="1027" width="192" height="35"/><rect class="ceg" x="31" y="1028" width="5" height="33"/><text class="t" x="215" y="1048">Gérer les congés</text></g>

<g id="cta"><rect class="grp" x="432" y="857" width="609" height="230"/><text class="h" x="737" y="870"><tspan class="bd">CTA:</tspan> Comptabilité</text></g>
<g id="cta-1"><rect class="w" x="436" y="881" width="192" height="36"/><rect class="sag" x="437" y="882" width="4" height="34"/><text class="t"><tspan x="622" y="894">Produire les états</tspan><tspan x="622" y="912">réglementaires</tspan></text></g>
<g id="cta-2"><rect class="w" x="436" y="927" width="192" height="34"/><rect class="sag" x="437" y="928" width="4" height="32"/><text class="t"><tspan x="622" y="940">Gérer les comptes</tspan><tspan x="622" y="957">bancaires</tspan></text></g>
<g id="cta-3"><rect class="w" x="436" y="970" width="192" height="34"/><rect class="kos" x="437" y="971" width="4" height="32"/><text class="t"><tspan x="622" y="983">Envoyer un bon de</tspan><tspan x="622" y="1000">commande</tspan></text></g>
<g id="cta-4"><rect class="w" x="436" y="1013" width="192" height="37"/><text class="t"><tspan x="622" y="1026">Envoyer les encaissements</tspan><tspan x="622" y="1044">du loyer</tspan></text></g>
<g id="cta-5"><rect class="w" x="636" y="881" width="192" height="36"/><text class="t" x="822" y="903">Optimiser les taxes</text></g>
<g id="cta-6"><rect class="w" x="636" y="927" width="192" height="77"/><rect class="pap" x="636" y="970" width="5" height="33"/><text class="t"><tspan x="822" y="950">Etablir les déclarations</tspan><tspan x="822" y="968">fiscales pour les nouveaux</tspan><tspan x="822" y="985">immeubles</tspan></text></g>
<g id="cta-7"><rect class="w" x="636" y="1013" width="192" height="37"/><rect class="sag" x="637" y="1014" width="4" height="35"/><text class="t"><tspan x="822" y="1026">Envoyer les fichiers de</tspan><tspan x="822" y="1044">prélèvements</tspan></text></g>
<g id="cta-8"><rect class="w" x="835" y="881" width="192" height="36"/><rect class="pap" x="836" y="882" width="5" height="34"/><text class="t"><tspan x="1021" y="894">Comptabiliser et payer les</tspan><tspan x="1021" y="912">factures fournisseurs</tspan></text></g>
<g id="cta-9"><rect class="w" x="835" y="927" width="192" height="34"/><rect class="pap" x="836" y="928" width="4" height="32"/><rect class="eml" x="840" y="928" width="4" height="32"/><rect class="tel" x="844" y="928" width="4" height="32"/><rect class="sag" x="848" y="928" width="4" height="32"/><text class="t"><tspan x="1021" y="940">Gérer les financements et</tspan><tspan x="1021" y="957">les subventions</tspan></text></g>
<g id="cta-10"><rect class="w" x="835" y="970" width="192" height="34"/><rect class="sag" x="836" y="971" width="4" height="32"/><text class="t"><tspan x="1021" y="983">Envoyer les fichiers de</tspan><tspan x="1021" y="1000">virements fournisseurs</tspan></text></g>

<g id="vtr"><rect class="grp" x="1049" y="857" width="207" height="118"/><text class="h"><tspan x="1152" y="870"><tspan class="bd">VTR:</tspan> Veille technique et</tspan><tspan x="1152" y="888">réglementaire</tspan></text></g>
<g id="vtr-1"><rect class="w" x="1057" y="897" width="191" height="65"/><rect class="eml" x="1058" y="925" width="4" height="36"/><text class="t"><tspan x="1242" y="914">Assurer les veilles techniques</tspan><tspan x="1242" y="932">et réglementaires par</tspan><tspan x="1242" y="950">secteurs</tspan></text></g>

<g id="gsi"><rect class="grp" x="1267" y="857" width="396" height="117"/><text class="h" x="1465" y="870"><tspan class="bd">GSI:</tspan> Systèmes d'information</text></g>
<g id="gsi-1"><rect class="w" x="1271" y="878" width="191" height="36"/><rect class="tel" x="1272" y="879" width="4" height="34"/><text class="t"><tspan x="1456" y="891">Administration serveur et</tspan><tspan x="1456" y="908">réseau</tspan></text></g>
<g id="gsi-2"><rect class="w" x="1467" y="878" width="111" height="36"/><rect class="blk" x="1469" y="879" width="4" height="34"/><rect class="tel" x="1474" y="879" width="4" height="34"/><text class="t" x="1572" y="900">HELP DESK</text></g>
<g id="gsi-3"><rect class="s" x="1583" y="878" width="75" height="82"/><text class="t"><tspan x="1652" y="904">Sauvegar</tspan><tspan x="1652" y="922">der les</tspan><tspan x="1652" y="940">données</tspan></text></g>
<g id="gsi-4"><rect class="w" x="1271" y="923" width="158" height="36"/><rect class="tel" x="1272" y="924" width="4" height="34"/><text class="t"><tspan x="1423" y="936">Gérer les projets de</tspan><tspan x="1423" y="954">migration</tspan></text></g>
<g id="gsi-5"><rect class="w" x="1434" y="923" width="144" height="36"/><rect class="tel" x="1435" y="924" width="4" height="34"/><text class="t"><tspan x="1572" y="936">Gérer les projets</tspan><tspan x="1572" y="954">d'implémentation</tspan></text></g>

<g id="haf"><rect class="grp" x="1049" y="982" width="614" height="105"/><text class="h" x="1356" y="994"><tspan class="bd">HAF:</tspan> Achats et suivi fournisseurs</text></g>
<g id="haf-1"><rect class="w" x="1057" y="1017" width="191" height="35"/><rect class="exc" x="1058" y="1018" width="4" height="33"/><rect class="eml" x="1062" y="1018" width="4" height="33"/><rect class="kos" x="1066" y="1018" width="4" height="33"/><text class="t" x="1242" y="1039">Réaliser les achats</text></g>
<g id="haf-2"><rect class="w" x="1258" y="1017" width="192" height="35"/><rect class="kos" x="1259" y="1018" width="4" height="33"/><rect class="exc" x="1263" y="1018" width="4" height="33"/><rect class="eml" x="1267" y="1018" width="4" height="33"/><text class="t"><tspan x="1444" y="1030">Suivre l'exécution des</tspan><tspan x="1444" y="1047">contrats</tspan></text></g>
<g id="haf-3"><rect class="w" x="1461" y="1017" width="192" height="35"/><rect class="kos" x="1462" y="1018" width="4" height="33"/><rect class="pap" x="1466" y="1018" width="4" height="33"/><text class="t"><tspan x="1647" y="1030">Piloter et suivre les</tspan><tspan x="1647" y="1047">fournisseurs</tspan></text></g>

<!-- ================= LEGENDE ================= -->
<g id="legende">
<rect class="panel" x="1678" y="807" width="120" height="280"/>
<text class="big" x="1689" y="830">Légende</text>
<rect class="kos sw" x="1685" y="835" width="12" height="23"/><text class="lg" x="1701" y="851">KOS</text>
<rect class="exc sw" x="1732" y="836" width="13" height="22"/><text class="lg" x="1751" y="851">Excel</text>
<rect class="nov sw" x="1685" y="860" width="12" height="25"/><text class="lg" x="1701" y="873">Noovacom</text>
<path class="wave" d="M1701 877 l2 2 l2 -2 l2 2 l2 -2 l2 2 l2 -2 l2 2 l2 -2 l2 2 l2 -2 l2 2 l2 -2 l2 2 l2 -2 l2 2 l2 -2 l2 2 l2 -2 l2 2 l2 -2 l2 2 l2 -2 l2 2 l2 -2"/>
<rect class="blk sw" x="1684" y="888" width="12" height="24"/><text class="lg"><tspan x="1698" y="896">Portail</tspan><tspan x="1698" y="911">AGL</tspan></text>
<rect class="sek sw" x="1733" y="888" width="13" height="24"/><text class="lg" x="1748" y="903" style="font-size:7px">SEKENSA</text>
<rect class="qlk sw" x="1684" y="915" width="12" height="22"/><text class="lg" x="1698" y="928">QlikView</text>
<path class="wave" d="M1698 931 l2 2 l2 -2 l2 2 l2 -2 l2 2 l2 -2 l2 2 l2 -2 l2 2 l2 -2 l2 2 l2 -2 l2 2 l2 -2 l2 2 l2 -2 l2 2 l2 -2 l2 2 l2 -2"/>
<rect class="mar sw" x="1746" y="914" width="14" height="21"/><text class="lg" x="1761" y="928" style="font-size:6px">Marelle</text>
<rect class="sta sw" x="1685" y="942" width="12" height="24"/><text class="lg"><tspan x="1701" y="950">Station</tspan><tspan x="1701" y="966">bureautique</tspan></text>
<rect class="exr sw" x="1685" y="969" width="12" height="22"/><text class="lg" x="1701" y="985">Ebor</text>
<rect class="azu sw" x="1732" y="970" width="13" height="23"/><text class="lg" x="1750" y="985">Azur</text>
<rect class="sag sw" x="1685" y="996" width="12" height="22"/><text class="lg" x="1701" y="1011">Sage</text>
<rect class="pap sw" x="1733" y="996" width="13" height="23"/><text class="lg"><tspan x="1748" y="1002">Papier/</tspan><tspan x="1748" y="1018">Courrier</tspan></text>
<rect class="ceg sw" x="1684" y="1019" width="13" height="23"/><text class="lg" x="1701" y="1034">CEGID</text>
<rect class="eml sw" x="1738" y="1021" width="13" height="22"/><text class="lg" x="1754" y="1035">E-mail</text>
<rect class="nmp sw" x="1684" y="1043" width="13" height="22"/><text class="lg" x="1701" y="1062">Novamap</text>
<rect class="tel sw" x="1759" y="1046" width="13" height="19"/><text class="lg" x="1774" y="1058" style="font-size:5px">Télé-</text><text class="lg" x="1774" y="1064" style="font-size:5px">phone</text>
</g>
</svg>
